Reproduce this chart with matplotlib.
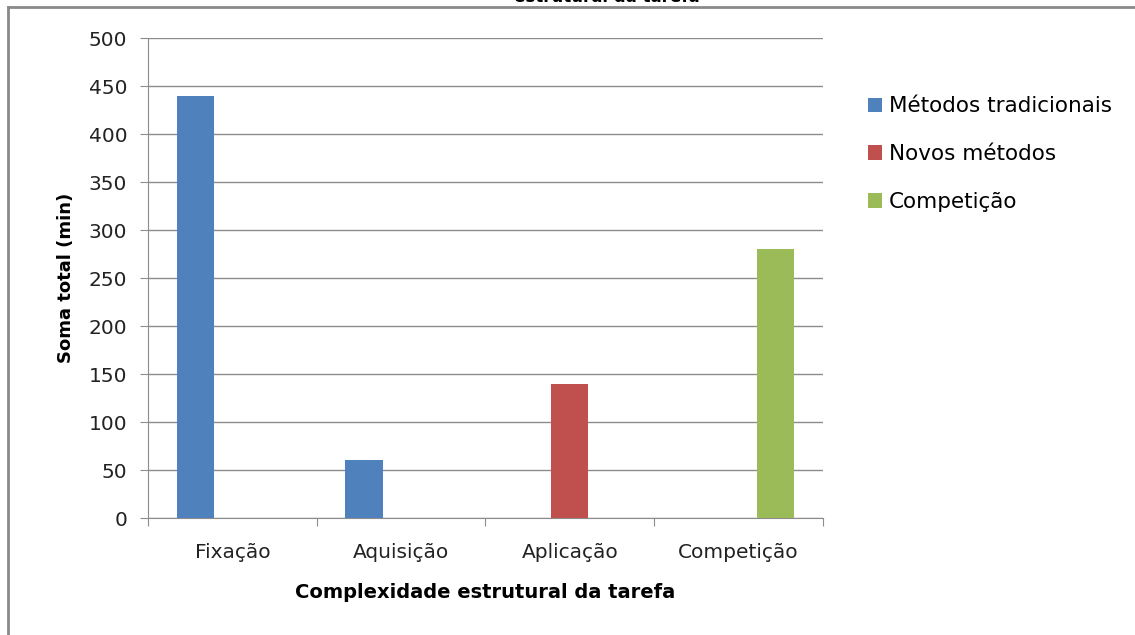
import matplotlib
matplotlib.use("Agg")
import matplotlib.pyplot as plt
import numpy as np
from matplotlib.lines import Line2D

# dados
categorias = ["Fixação", "Aquisição", "Aplicação", "Competição"]
series = ["Métodos tradicionais", "Novos métodos", "Competição"]
tradicionais = [440, 60, 0, 0]
novos = [0, 0, 140, 0]
competicao = [0, 0, 0, 280]
cores = ["#4F81BD", "#C0504D", "#9BBB59"]

plt.rcParams["font.family"] = ["DejaVu Sans"]

W, H = 1135, 635
fig = plt.figure(figsize=(W / 100, H / 100), dpi=100)
ax = fig.add_axes([148 / W, 1 - 518 / H, (823 - 148) / W, (518 - 38) / H])

x = np.arange(len(categorias))
largura = 0.22
for i, (vals, nome) in enumerate(zip([tradicionais, novos, competicao], series)):
    ax.bar(x + (i - 1) * largura, vals, largura, color=cores[i], label=nome, zorder=3)

ax.set_xlim(-0.5, 3.5)
ax.set_ylim(0, 500)
ax.set_yticks(np.arange(0, 501, 50))
ax.yaxis.grid(True, color="#8c8c8c", linewidth=1, zorder=0)
ax.set_xticks(np.arange(-0.5, 3.6, 1))
ax.set_xticklabels([])
ax.set_xticks(x, minor=True)
ax.set_xticklabels(categorias, minor=True, fontsize=14.5, color="#222222")
ax.tick_params(axis="x", which="minor", length=0, pad=18)
ax.tick_params(axis="x", which="major", length=6, color="#8c8c8c", direction="out")
ax.tick_params(axis="y", length=6, color="#8c8c8c", labelsize=14.5, labelcolor="#222222", pad=9)

for s in ["top", "right"]:
    ax.spines[s].set_visible(False)
for s in ["left", "bottom"]:
    ax.spines[s].set_color("#8c8c8c")

ax.set_ylabel("Soma total (min)", fontsize=13, fontweight="bold", labelpad=10)
ax.set_xlabel("Complexidade estrutural da tarefa", fontsize=14, fontweight="bold", labelpad=15)

leg = fig.legend(loc="upper left", bbox_to_anchor=(849 / W, 1 - 77 / H), frameon=False,
                 fontsize=15.5, handlelength=0.65, handleheight=0.65, handletextpad=0.3,
                 labelspacing=1.29)

# moldura do gráfico (esquerda e topo)
fig.add_artist(Line2D([8 / W, 8 / W], [0, 1 - 7 / H], transform=fig.transFigure,
                      color="#8a8a8a", linewidth=2))
fig.add_artist(Line2D([8 / W, 1], [1 - 7 / H, 1 - 7 / H], transform=fig.transFigure,
                      color="#8a8a8a", linewidth=2))
fig.text(607 / W, 1 + 3 / H, "estrutural da tarefa", ha="center", va="center",
         fontsize=12, fontweight="bold")

fig.savefig("out.png", dpi=100)
